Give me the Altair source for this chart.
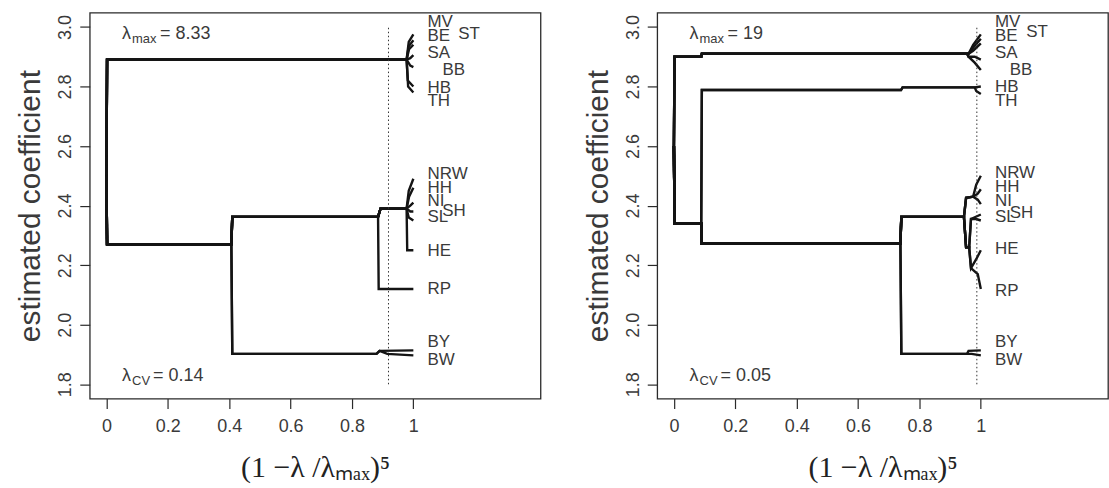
import altair as alt
import pandas as pd

# ---------------- data ----------------
STATES = ["MV", "BE", "ST", "SA", "BB", "HB", "TH", "NRW", "HH", "NI",
          "SH", "SL", "HE", "RP", "BY", "BW"]

# coefficient paths, x = (1 - lambda/lambda_max)^5 ; y = estimated coefficient
LEFT_PATHS = {
    "MV": [(0, 2.50), (0.002, 2.89), (0.978, 2.89), (0.985, 2.95), (1.0, 2.975)],
    "BE": [(0, 2.50), (0.002, 2.89), (0.978, 2.89), (0.985, 2.935), (1.0, 2.955)],
    "ST": [(0, 2.50), (0.002, 2.89), (0.978, 2.89), (0.986, 2.925), (1.0, 2.94)],
    "SA": [(0, 2.50), (0.002, 2.89), (0.978, 2.89), (0.99, 2.895), (1.0, 2.905)],
    "BB": [(0, 2.50), (0.002, 2.89), (0.978, 2.89), (0.99, 2.87), (1.0, 2.865)],
    "HB": [(0, 2.50), (0.002, 2.89), (0.978, 2.89), (0.982, 2.82), (1.0, 2.80)],
    "TH": [(0, 2.50), (0.002, 2.89), (0.978, 2.89), (0.983, 2.80), (1.0, 2.78)],
    "NRW": [(0, 2.50), (0.002, 2.27), (0.407, 2.27), (0.41, 2.362), (0.885, 2.362),
            (0.893, 2.39), (0.978, 2.39), (0.985, 2.45), (1.0, 2.49)],
    "HH": [(0, 2.50), (0.002, 2.27), (0.407, 2.27), (0.41, 2.362), (0.885, 2.362),
           (0.893, 2.39), (0.978, 2.39), (0.986, 2.43), (1.0, 2.46)],
    "NI": [(0, 2.50), (0.002, 2.27), (0.407, 2.27), (0.41, 2.362), (0.885, 2.362),
           (0.893, 2.39), (0.978, 2.39), (0.99, 2.40), (1.0, 2.41)],
    "SH": [(0, 2.50), (0.002, 2.27), (0.407, 2.27), (0.41, 2.362), (0.885, 2.362),
           (0.893, 2.39), (0.978, 2.39), (0.99, 2.38), (1.0, 2.38)],
    "SL": [(0, 2.50), (0.002, 2.27), (0.407, 2.27), (0.41, 2.362), (0.885, 2.362),
           (0.893, 2.39), (0.978, 2.39), (0.985, 2.36), (1.0, 2.35)],
    "HE": [(0, 2.50), (0.002, 2.27), (0.407, 2.27), (0.41, 2.362), (0.885, 2.362),
           (0.893, 2.39), (0.978, 2.39), (0.98, 2.25), (1.0, 2.25)],
    "RP": [(0, 2.50), (0.002, 2.27), (0.407, 2.27), (0.41, 2.362), (0.885, 2.362),
           (0.887, 2.12), (1.0, 2.12)],
    "BY": [(0, 2.50), (0.002, 2.27), (0.407, 2.27), (0.41, 1.902), (0.88, 1.902),
           (0.89, 1.912), (1.0, 1.914)],
    "BW": [(0, 2.50), (0.002, 2.27), (0.407, 2.27), (0.41, 1.902), (0.88, 1.902),
           (0.89, 1.912), (0.915, 1.902), (1.0, 1.897)],
}

RIGHT_PATHS = {
    "MV": [(0, 2.60), (0.002, 2.90), (0.089, 2.90), (0.091, 2.91), (0.96, 2.91),
           (0.975, 2.94), (1.0, 2.975)],
    "BE": [(0, 2.60), (0.002, 2.90), (0.089, 2.90), (0.091, 2.91), (0.96, 2.91),
           (0.975, 2.93), (1.0, 2.96)],
    "ST": [(0, 2.60), (0.002, 2.90), (0.089, 2.90), (0.091, 2.91), (0.96, 2.91),
           (0.975, 2.92), (1.0, 2.945)],
    "SA": [(0, 2.60), (0.002, 2.90), (0.089, 2.90), (0.091, 2.91), (0.955, 2.91),
           (0.96, 2.90), (0.98, 2.90), (1.0, 2.89)],
    "BB": [(0, 2.60), (0.002, 2.90), (0.089, 2.90), (0.091, 2.91), (0.955, 2.91),
           (0.96, 2.90), (0.98, 2.88), (1.0, 2.855)],
    "HB": [(0, 2.60), (0.002, 2.34), (0.089, 2.34), (0.091, 2.788), (0.74, 2.788),
           (0.745, 2.797), (0.98, 2.797), (1.0, 2.80)],
    "TH": [(0, 2.60), (0.002, 2.34), (0.089, 2.34), (0.091, 2.788), (0.74, 2.788),
           (0.745, 2.797), (0.98, 2.797), (0.985, 2.785), (1.0, 2.775)],
    "NRW": [(0, 2.60), (0.002, 2.34), (0.089, 2.34), (0.091, 2.272), (0.738, 2.272),
            (0.741, 2.362), (0.945, 2.362), (0.952, 2.426), (0.975, 2.43),
            (0.985, 2.47), (1.0, 2.50)],
    "HH": [(0, 2.60), (0.002, 2.34), (0.089, 2.34), (0.091, 2.272), (0.738, 2.272),
           (0.741, 2.362), (0.945, 2.362), (0.952, 2.426), (0.975, 2.43),
           (0.99, 2.44), (1.0, 2.455)],
    "NI": [(0, 2.60), (0.002, 2.34), (0.089, 2.34), (0.091, 2.272), (0.738, 2.272),
           (0.741, 2.362), (0.945, 2.362), (0.952, 2.426), (0.975, 2.43),
           (0.99, 2.42), (1.0, 2.405)],
    "SH": [(0, 2.60), (0.002, 2.34), (0.089, 2.34), (0.091, 2.272), (0.738, 2.272),
           (0.741, 2.362), (0.945, 2.362), (0.952, 2.26), (0.962, 2.26),
           (0.968, 2.355), (1.0, 2.37)],
    "SL": [(0, 2.60), (0.002, 2.34), (0.089, 2.34), (0.091, 2.272), (0.738, 2.272),
           (0.741, 2.362), (0.945, 2.362), (0.952, 2.26), (0.962, 2.26),
           (0.968, 2.355), (0.985, 2.355), (1.0, 2.35)],
    "HE": [(0, 2.60), (0.002, 2.34), (0.089, 2.34), (0.091, 2.272), (0.738, 2.272),
           (0.741, 2.362), (0.945, 2.362), (0.952, 2.26), (0.962, 2.26),
           (0.968, 2.19), (0.985, 2.22), (1.0, 2.25)],
    "RP": [(0, 2.60), (0.002, 2.34), (0.089, 2.34), (0.091, 2.272), (0.738, 2.272),
           (0.741, 2.362), (0.945, 2.362), (0.952, 2.26), (0.962, 2.26),
           (0.968, 2.19), (0.99, 2.17), (1.0, 2.12)],
    "BY": [(0, 2.60), (0.002, 2.34), (0.089, 2.34), (0.091, 2.272), (0.738, 2.272),
           (0.741, 1.902), (0.955, 1.902), (0.96, 1.912), (1.0, 1.914)],
    "BW": [(0, 2.60), (0.002, 2.34), (0.089, 2.34), (0.091, 2.272), (0.738, 2.272),
           (0.741, 1.902), (0.955, 1.902), (0.97, 1.902), (1.0, 1.897)],
}

# state labels at the right end of the paths
LEFT_LABEL_X = [1.046, 1.046, 1.146, 1.046, 1.095, 1.046, 1.046, 1.046, 1.046,
                1.046, 1.094, 1.046, 1.046, 1.046, 1.046, 1.046]
LEFT_LABEL_Y = [3.016, 2.970, 2.975, 2.911, 2.855, 2.796, 2.750, 2.506, 2.459,
                2.415, 2.382, 2.362, 2.248, 2.119, 1.941, 1.880]
RIGHT_LABEL_X = [1.046, 1.046, 1.148, 1.046, 1.094, 1.046, 1.046, 1.046, 1.046,
                 1.046, 1.094, 1.046, 1.046, 1.046, 1.046, 1.046]
RIGHT_LABEL_Y = [3.016, 2.970, 2.982, 2.911, 2.855, 2.797, 2.750, 2.508, 2.462,
                 2.416, 2.376, 2.360, 2.254, 2.114, 1.941, 1.880]

LAMBDA_MAX = ["8.33", "19"]
LAMBDA_CV = ["0.14", "0.05"]
CV_X = [0.919, 0.987]          # position of the dotted line (lambda_CV)

X_TICKS = [0, 0.2, 0.4, 0.6, 0.8, 1]
Y_TICKS = [1.8, 2.0, 2.2, 2.4, 2.6, 2.8, 3.0]
X_DOMAIN = [-0.0544, 1.4144]
Y_DOMAIN = [1.752, 3.048]

# ---------------- styling ----------------
W, H = 452, 387
FONT = "Liberation Sans"
TXT = "#3a3a3a"
LINE = "#141414"

XS = alt.Scale(domain=X_DOMAIN, nice=False, zero=False)
YS = alt.Scale(domain=Y_DOMAIN, nice=False, zero=False)
XAXIS = alt.Axis(values=X_TICKS, format="~g",
                 title="(1 \u2212\u03bb /\u03bb\u2098\u2090\u2093)\u2075",
                 titleFont="Liberation Serif", titleFontSize=30, titleFontWeight="normal",
                 titleColor="#222", titleY=69, titleBaseline="middle", titleAlign="center",
                 titleX=W / 2, labelPadding=9)
YAXIS = alt.Axis(values=Y_TICKS, format=".1f", title="estimated coefficient",
                 labelAngle=-90, labelAlign="center", labelBaseline="middle",
                 labelPadding=14, titleX=-59, titleY=H / 2, titleAngle=-90,
                 titleAlign="center", titleBaseline="middle",
                 titleFont=FONT, titleFontSize=30, titleFontWeight="normal",
                 titleColor=TXT)


def xy():
    return dict(x=alt.X("x:Q", scale=XS, axis=XAXIS),
                y=alt.Y("y:Q", scale=YS, axis=YAXIS))


def panel(paths, lab_x, lab_y, lmax, lcv, cvx):
    rows = []
    for s, pts in paths.items():
        for i, (x, y) in enumerate(pts):
            rows.append({"state": s, "i": i, "x": x, "y": y})
    df = pd.DataFrame(rows)

    lines = alt.Chart(df).mark_line(color=LINE, strokeWidth=2.4, strokeJoin="miter").encode(
        detail="state:N", order=alt.Order("i:Q"), **xy()
    )

    cv = alt.Chart(pd.DataFrame({"x": [cvx], "y": [1.8], "y2": [3.0]})).mark_rule(
        color="#333", strokeWidth=1, strokeDash=[1.5, 2.5]
    ).encode(y2="y2:Q", **xy())

    labdf = pd.DataFrame({"state": STATES, "x": lab_x, "y": lab_y})
    labels = alt.Chart(labdf).mark_text(
        align="left", baseline="middle", font=FONT, fontSize=17, color=TXT
    ).encode(text="state:N", **xy())

    ann = pd.DataFrame({"x": [0.051, 0.051], "y": [2.976, 1.829],
                        "sub": ["max", "CV"],
                        "val": ["= " + lmax, "= " + lcv]})
    lam = alt.Chart(ann).mark_text(align="left", baseline="middle", font=FONT,
                                   fontSize=18, color=TXT, text="\u03bb").encode(**xy())
    sub = alt.Chart(ann).mark_text(align="left", baseline="middle", font=FONT,
                                   fontSize=13, color=TXT, dx=10, dy=5).encode(
        text="sub:N", **xy())
    val1 = alt.Chart(ann.iloc[[0]]).mark_text(align="left", baseline="middle", font=FONT,
                                              fontSize=18, color=TXT, dx=38).encode(
        text="val:N", **xy())
    val2 = alt.Chart(ann.iloc[[1]]).mark_text(align="left", baseline="middle", font=FONT,
                                              fontSize=18, color=TXT, dx=31).encode(
        text="val:N", **xy())

    return alt.layer(lines, cv, labels, lam, sub, val1, val2).properties(width=W, height=H)


left = panel(LEFT_PATHS, LEFT_LABEL_X, LEFT_LABEL_Y, LAMBDA_MAX[0], LAMBDA_CV[0], CV_X[0])
right = panel(RIGHT_PATHS, RIGHT_LABEL_X, RIGHT_LABEL_Y, LAMBDA_MAX[1], LAMBDA_CV[1], CV_X[1])

chart = alt.hconcat(left, right, spacing=41).properties(
    padding={"left": 15, "top": 11, "right": 0, "bottom": 0},
    background="white",
).configure_view(stroke="#2a2a2a", strokeWidth=1.3).configure_axis(
    domain=False, grid=False, ticks=True, tickSize=10, tickColor="#2a2a2a", tickWidth=1.2,
    labelFont=FONT, labelFontSize=18, labelColor=TXT,
)

chart.save("out.html", embed_options={"renderer": "svg", "actions": False})
